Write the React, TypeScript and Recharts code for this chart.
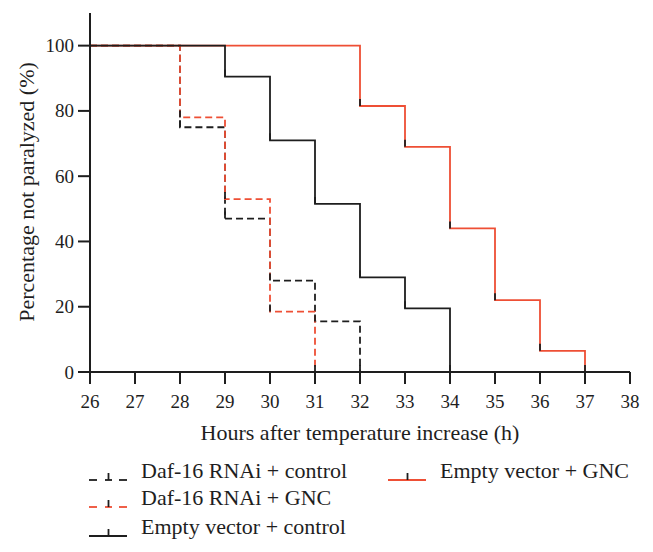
import * as React from "react";
import { LineChart, Line, XAxis, YAxis } from "recharts";

const hourTicks = [26, 27, 28, 29, 30, 31, 32, 33, 34, 35, 36, 37, 38];
const pctTicks = [0, 20, 40, 60, 80, 100];

const dafControlX = [26, 28, 29, 30, 31, 32];
const dafControlY = [100, 75, 47, 28, 15.5, 0];
const dafGncX = [26, 28, 29, 30, 31];
const dafGncY = [100, 78, 53, 18.5, 0];
const evControlX = [26, 29, 30, 31, 32, 33, 34];
const evControlY = [100, 90.5, 71, 51.5, 29, 19.5, 0];
const evGncX = [26, 32, 33, 34, 35, 36, 37];
const evGncY = [100, 81.5, 69, 44, 22, 6.5, 0];

const RED = "#ee4f35";
const INK = "#1e1e1e";
const FONT = "Liberation Serif, serif";

function toPoints(xs: number[], ys: number[]) {
  return xs.map((x, i) => ({ x, y: ys[i] }));
}

// small censor mark drawn up from each step point
function CensorTick(props: any) {
  const { cx, cy, index } = props;
  if (index === 0 || cx == null || cy == null) return <g key={`c-${index}`} />;
  return <line key={`c-${index}`} x1={cx} x2={cx} y1={cy - 7} y2={cy} stroke={INK} strokeWidth={1.8} />;
}

const tickStyle: React.CSSProperties = { fontFamily: FONT, fontSize: 19, fill: INK };

function XTick({ x, y, payload }: any) {
  return (
    <g>
      <text x={x} y={y} dy={14} textAnchor="middle" style={tickStyle}>
        {String(payload.value)}
      </text>
    </g>
  );
}

function YTick({ x, y, payload }: any) {
  return (
    <g>
      <text x={x} y={y} dy={6.5} textAnchor="end" style={tickStyle}>
        {String(payload.value)}
      </text>
    </g>
  );
}

const series = [
  { name: "Daf-16 RNAi + control", data: toPoints(dafControlX, dafControlY), color: INK, dash: "7 4" },
  { name: "Daf-16 RNAi + GNC", data: toPoints(dafGncX, dafGncY), color: RED, dash: "7 4" },
  { name: "Empty vector + GNC", data: toPoints(evGncX, evGncY), color: RED, dash: undefined },
  { name: "Empty vector + control", data: toPoints(evControlX, evControlY), color: INK, dash: undefined },
];

function LegendItem({ label, color, dashed, left, top }: { label: string; color: string; dashed?: boolean; left: number; top: number }) {
  return (
    <div style={{ position: "absolute", left, top, height: 28, display: "flex", alignItems: "center" }}>
      <svg width={40} height={20} style={{ marginRight: 12, marginTop: 6 }}>
        {dashed ? (
          <g stroke={color} strokeWidth={1.8}>
            <line x1={0} x2={8} y1={16} y2={16} />
            <line x1={16} x2={23} y1={16} y2={16} />
            <line x1={30} x2={38} y1={16} y2={16} />
          </g>
        ) : (
          <line x1={0} x2={38} y1={16} y2={16} stroke={color} strokeWidth={1.8} />
        )}
        <line x1={19.5} x2={19.5} y1={9} y2={16} stroke={INK} strokeWidth={1.8} />
      </svg>
      <span style={{ fontFamily: FONT, fontSize: 22, color: INK, whiteSpace: "nowrap" }}>{label}</span>
    </div>
  );
}

export default function App() {
  return (
    <div style={{ position: "absolute", left: 0, top: 0, width: 653, height: 552, background: "#fff", fontFamily: FONT }}>
      <LineChart width={653} height={552} margin={{ top: 13, right: 23, left: 0, bottom: 120 }}>
        <XAxis
          dataKey="x"
          type="number"
          domain={[26, 38]}
          ticks={hourTicks}
          height={60}
          tickSize={12}
          tickMargin={10}
          stroke={INK}
          strokeWidth={2}
          tick={XTick}
          interval={0}
        />
        <YAxis
          type="number"
          domain={[0, 110]}
          ticks={pctTicks}
          width={90}
          tickSize={12}
          tickMargin={4}
          stroke={INK}
          strokeWidth={2}
          tick={YTick}
          interval={0}
        />
        {series.map((s) => (
          <Line
            key={s.name}
            data={s.data}
            dataKey="y"
            type="stepAfter"
            stroke={s.color}
            strokeWidth={1.8}
            strokeDasharray={s.dash}
            dot={<CensorTick />}
            activeDot={false}
            isAnimationActive={false}
          />
        ))}
      </LineChart>

      <div
        style={{
          position: "absolute",
          left: 360,
          top: 433,
          transform: "translate(-50%, -50%)",
          fontFamily: FONT,
          fontSize: 22,
          color: INK,
          whiteSpace: "nowrap",
        }}
      >
        Hours after temperature increase (h)
      </div>
      <div
        style={{
          position: "absolute",
          left: 27,
          top: 192,
          transform: "translate(-50%, -50%) rotate(-90deg)",
          fontFamily: FONT,
          fontSize: 22,
          color: INK,
          whiteSpace: "nowrap",
        }}
      >
        Percentage not paralyzed (%)
      </div>

      <LegendItem label="Daf-16 RNAi + control" color={INK} dashed left={89} top={457} />
      <LegendItem label="Daf-16 RNAi + GNC" color={RED} dashed left={89} top={484} />
      <LegendItem label="Empty vector + control" color={INK} left={89} top={513} />
      <LegendItem label="Empty vector + GNC" color={RED} left={388} top={457} />
    </div>
  );
}
